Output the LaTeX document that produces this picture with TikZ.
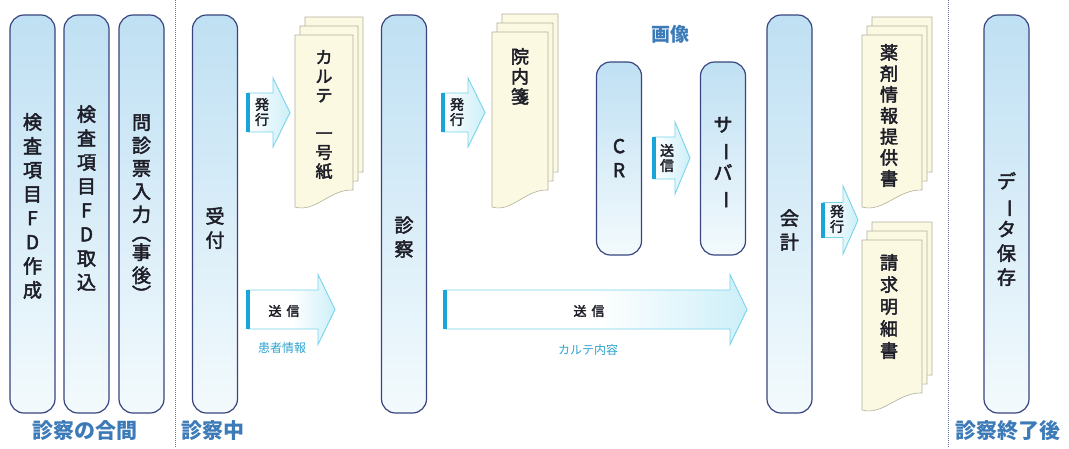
\documentclass[tikz,border=0pt]{standalone}
\usepackage{fontspec}
\setmainfont{Noto Sans CJK JP}
\newfontfamily\medfont{Noto Sans CJK JP}[FakeBold=2.5]
\usepackage{graphicx}
\definecolor{pillartop}{HTML}{BFE0F3}
\definecolor{pillarbot}{HTML}{F3FAFD}
\definecolor{pillarline}{HTML}{38457E}
\definecolor{paperfill}{HTML}{FCF9E3}
\definecolor{paperline}{HTML}{B0B09A}
\definecolor{arrowline}{HTML}{78D4EA}
\definecolor{arrowbarc}{HTML}{1AA5D9}
\definecolor{arrowhead}{HTML}{CDEFF8}
\definecolor{phaseblue}{HTML}{3D7BB8}
\definecolor{capblue}{HTML}{2FA3CF}
\definecolor{textdark}{HTML}{1E1E28}
\definecolor{divcolor}{HTML}{6A78A8}
\newcommand{\vchoon}{\rotatebox[origin=c]{-90}{ー}}
\newcommand{\vlparen}{\rotatebox[origin=c]{-90}{（}}
\newcommand{\vrparen}{\rotatebox[origin=c]{-90}{）}}
\tikzset{
  pillar/.style={draw=pillarline, line width=1.2pt, rounded corners=14pt,
    top color=pillartop, bottom color=pillarbot, minimum width=45pt, inner sep=0pt},
  vtext/.style={align=center, font=\medfont\fontsize{19}{24}\selectfont, text=textdark, inner sep=0pt},
  papersheet/.style={draw=paperline, fill=paperfill, line width=0.6pt},
  ptext/.style={align=center, anchor=north, inner sep=0pt, text=textdark},
  barrow/.style={draw=arrowline, line width=0.9pt, left color=white, right color=arrowhead},
  bigarrow/.style={draw=arrowline, line width=0.9pt, left color=white, right color=arrowhead, middle color=white},
  abar/.style={draw=arrowbarc, line width=3.5pt},
  atext/.style={align=center, inner sep=0pt, text=textdark, font=\medfont\fontsize{14}{15}\selectfont},
  phase/.style={font=\fontsize{21}{21}\selectfont\bfseries, text=phaseblue, inner sep=0pt},
  capt/.style={font=\fontsize{12}{12}\selectfont, text=capblue, inner sep=0pt},
  divider/.style={draw=divcolor, densely dotted, line width=1pt}
}
% sheet: x0, y0, w, h
\newcommand{\sheet}[4]{%
  \draw[papersheet] (#1,#2) -- ({#1+#3},#2) -- ({#1+#3},{#2+#4-17})
    .. controls ({#1+0.6*#3},{#2+#4-18}) and ({#1+0.35*#3},{#2+#4+6}) .. (#1,{#2+#4}) -- cycle;}
\newcommand{\paperstack}[4]{%
  \sheet{#1+10}{#2-18}{#3}{#4}\sheet{#1+5}{#2-9}{#3}{#4}\sheet{#1}{#2}{#3}{#4}}
% block arrow: style, x0, head start, tip, yc, half body, half head
\newcommand{\blockarrow}[7]{%
  \draw[#1] (#2,{#5-#6}) -- (#3,{#5-#6}) -- (#3,{#5-#7}) -- (#4,#5)
    -- (#3,{#5+#7}) -- (#3,{#5+#6}) -- (#2,{#5+#6}) -- cycle;
  \draw[abar] (#2,{#5-#6}) -- (#2,{#5+#6});}
\begin{document}
\begin{tikzpicture}[x=1pt,y=-1pt]
\useasboundingbox[fill=white] (0,0) rectangle (1069,448);

% dividers
\coordinate (d1t) at (175,0); \coordinate (d1b) at (175,448);
\coordinate (d2t) at (948,0); \coordinate (d2b) at (948,448);
\draw[divider] (d1t) -- (d1b);
\draw[divider] (d2t) -- (d2b);

% pillars
\node[pillar, minimum height=398pt] (p1) at (32.5,214) {};
\node[vtext] (p1t) at (32.5,206) {検\\査\\項\\目\\F\\D\\作\\成};
\node[pillar, minimum height=398pt] (p2) at (86.5,214) {};
\node[vtext] (p2t) at (86.5,198) {検\\査\\項\\目\\F\\D\\取\\込};
\node[pillar, minimum height=398pt] (p3) at (141.5,214) {};
\node[vtext, font=\medfont\fontsize{19}{23}\selectfont] (p3t) at (141.5,209)
  {問\\診\\票\\入\\力\\[-4pt]\vlparen\\[-4pt]事\\後\\[-4pt]\vrparen};
\node[pillar, minimum height=398pt] (p4) at (215,214) {};
\node[vtext] (p4t) at (215,228) {受\\付};
\node[pillar, minimum height=398pt] (p5) at (404,214) {};
\node[vtext] (p5t) at (404,237) {診\\察};
\node[pillar, minimum height=193pt] (cr) at (619,158.5) {};
\node[vtext] (crt) at (619,158) {C\\R};
\node[pillar, minimum height=193pt] (srv) at (723,158.5) {};
\node[vtext] (srvt) at (723,163) {サ\\\vchoon\\バ\\\vchoon};
\node[pillar, minimum height=398pt] (kai) at (789.5,214) {};
\node[vtext] (kait) at (789.5,230) {会\\計};
\node[pillar, minimum height=398pt] (dat) at (1006.5,214) {};
\node[vtext] (datt) at (1006.5,229) {デ\\\vchoon\\タ\\保\\存};

% papers
\paperstack{295}{35}{58}{172}
\node[ptext, font=\medfont\fontsize{17}{19}\selectfont] (karte) at (324,50) {カ\\ル\\テ\\[19pt]一\\号\\紙};
\paperstack{492}{32}{56}{175}
\node[ptext, font=\medfont\fontsize{18}{20}\selectfont] (innai) at (520,48) {院\\内\\箋};
\paperstack{862}{35}{60}{172}
\node[ptext, font=\medfont\fontsize{18}{21}\selectfont] (yaku) at (889,44) {薬\\剤\\情\\報\\提\\供\\書};
\paperstack{862}{240}{60}{170}
\node[ptext, font=\medfont\fontsize{18}{22}\selectfont] (seik) at (889,254) {請\\求\\明\\細\\書};

% small arrows
\blockarrow{barrow}{248}{273}{290}{112.5}{19.5}{34.5}
\node[atext] (a1t) at (262,112) {発\\行};
\blockarrow{barrow}{443}{468}{485}{112.5}{19.5}{34.5}
\node[atext] (a2t) at (457,112) {発\\行};
\blockarrow{barrow}{654}{675}{690}{158}{21}{36}
\node[atext] (a3t) at (667,158) {送\\信};
\blockarrow{barrow}{823}{843}{858}{220}{17.5}{34}
\node[atext] (a4t) at (837,219) {発\\行};

% big arrows
\blockarrow{bigarrow}{248}{318}{335}{309.5}{19.5}{35}
\node[atext, font=\medfont\fontsize{13}{13}\selectfont] (a5t) at (284,311) {送\hspace{5pt}信};
\node[capt] (a5c) at (282,348) {患者情報};
\blockarrow{bigarrow}{445}{730}{747}{309.5}{19.5}{35}
\node[atext, font=\medfont\fontsize{13}{13}\selectfont] (a6t) at (589,311) {送\hspace{5pt}信};
\node[capt] (a6c) at (588,350) {カルテ内容};

% labels
\node[phase, font=\fontsize{19}{19}\selectfont\bfseries] (img) at (670,34) {画像};
\node[phase] (ph1) at (85,431) {診察の合間};
\node[phase] (ph2) at (213,431) {診察中};
\node[phase] (ph3) at (1008,431) {診察終了後};
\end{tikzpicture}
\end{document}
